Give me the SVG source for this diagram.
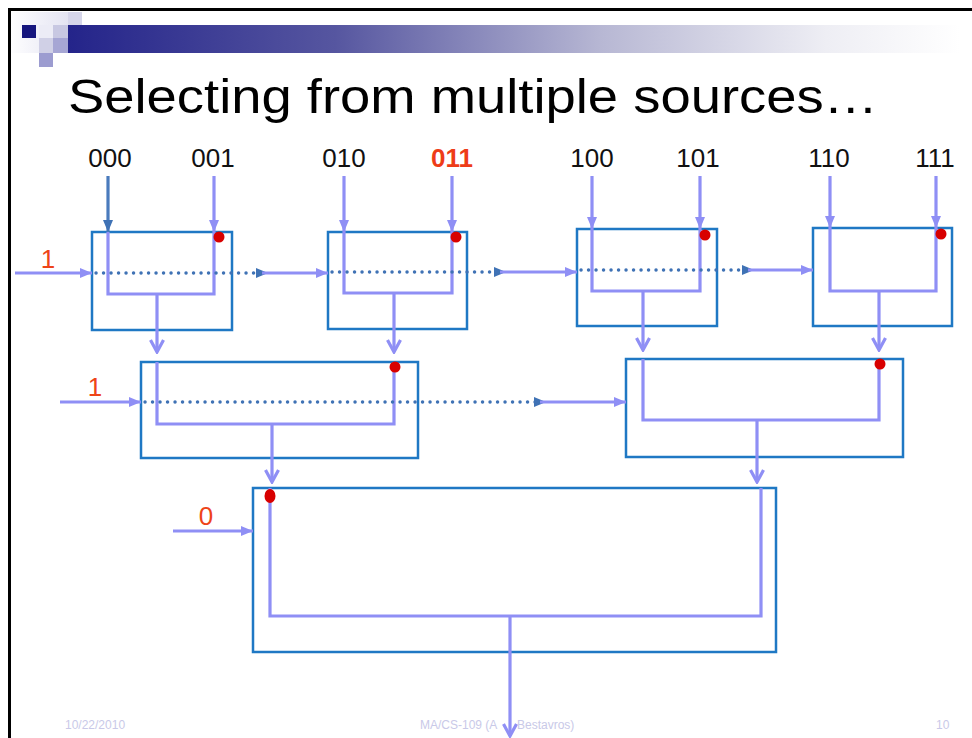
<svg xmlns="http://www.w3.org/2000/svg" width="972" height="738" viewBox="0 0 972 738">
  <style>
    .box { fill: none; stroke: #1f78c4; stroke-width: 2.5; }
    .wire { fill: none; stroke: #8f8ff5; stroke-width: 3.2; stroke-linejoin: miter; }
    .in { fill: none; stroke: #8f8ff5; stroke-width: 3.2; marker-end: url(#tri); }
    .in-dark { fill: none; stroke: #4a7bbd; stroke-width: 3.2; marker-end: url(#triDark); }
    .out { fill: none; stroke: #8f8ff5; stroke-width: 3.2; marker-end: url(#chev); }
    .dots { fill: none; stroke: #3f72b5; stroke-width: 3.4; stroke-linecap: round; stroke-dasharray: 0.1 7.4; }
    .sel { fill: #d80000; }
    .addr { font-family: "Liberation Sans", Arial, sans-serif; font-size: 26px; fill: #111; text-anchor: middle; }
    .bit { font-family: "Liberation Sans", Arial, sans-serif; font-size: 26px; fill: #ee4418; text-anchor: middle; }
    .foot { font-family: "Liberation Sans", Arial, sans-serif; font-size: 12px; fill: #c9c9e8; }
  </style>
  <defs>
    <marker id="tri" markerUnits="userSpaceOnUse" viewBox="0 0 12 10" refX="12" refY="5" markerWidth="12" markerHeight="10" orient="auto">
      <path d="M0,0 L12,5 L0,10 z" fill="#8f8ff5"/>
    </marker>
    <marker id="triDark" markerUnits="userSpaceOnUse" viewBox="0 0 12 10" refX="12" refY="5" markerWidth="12" markerHeight="10" orient="auto">
      <path d="M0,0 L12,5 L0,10 z" fill="#3f72b5"/>
    </marker>
    <marker id="chev" markerUnits="userSpaceOnUse" viewBox="0 0 16 16" refX="14" refY="8" markerWidth="16" markerHeight="16" orient="auto">
      <path d="M2,1.5 L14,8 L2,14.5" fill="none" stroke="#8f8ff5" stroke-width="3.2"/>
    </marker>
    <linearGradient id="band" x1="68" y1="0" x2="960" y2="0" gradientUnits="userSpaceOnUse">
      <stop offset="0" stop-color="#24248a"/>
      <stop offset="0.3" stop-color="#5656a0"/>
      <stop offset="0.6" stop-color="#b8b8d4"/>
      <stop offset="0.85" stop-color="#eeeef4"/>
      <stop offset="1" stop-color="#ffffff"/>
    </linearGradient>
    <linearGradient id="lead" x1="8" y1="0" x2="68" y2="0" gradientUnits="userSpaceOnUse">
      <stop offset="0" stop-color="#ffffff"/>
      <stop offset="1" stop-color="#e4e4f2"/>
    </linearGradient>
  </defs>

  <rect width="972" height="738" fill="#ffffff"/>

  <!-- slide frame -->
  <g id="frame">
    <line x1="8" y1="9.5" x2="972" y2="9.5" stroke="#000" stroke-width="3"/>
    <line x1="9.5" y1="8" x2="9.5" y2="738" stroke="#000" stroke-width="3"/>
  </g>

  <!-- header band with tiles -->
  <g id="header">
    <rect x="11" y="12" width="57" height="41" fill="url(#lead)"/>
    <rect x="68" y="25" width="904" height="28" fill="url(#band)"/>
    <rect x="68" y="12" width="14" height="13" fill="#d6d6ea"/>
    <rect x="39" y="25" width="14" height="13" fill="#ececf6"/>
    <rect x="53" y="25" width="15" height="13" fill="#c8c8e2"/>
    <rect x="22" y="25" width="14" height="13" fill="#16167e"/>
    <rect x="39" y="38" width="14" height="15" fill="#d0d0e6"/>
    <rect x="53" y="38" width="15" height="15" fill="#a6a6d4"/>
    <rect x="39" y="53" width="14" height="14" fill="#9c9cd0"/>
  </g>

  <text id="title" x="68" y="113" font-family="'Liberation Sans', Arial, sans-serif" font-size="48" fill="#000" textLength="810" lengthAdjust="spacingAndGlyphs">Selecting from multiple sources…</text>

  <!-- source addresses -->
  <g id="addresses">
    <text class="addr" x="110" y="167">000</text>
    <text class="addr" x="213" y="167">001</text>
    <text class="addr" x="344" y="167">010</text>
    <text class="addr" x="452" y="167" style="fill:#ee3c18;font-weight:bold">011</text>
    <text class="addr" x="592" y="167">100</text>
    <text class="addr" x="698" y="167">101</text>
    <text class="addr" x="829" y="167">110</text>
    <text class="addr" x="935" y="167">111</text>
  </g>

  <!-- select bits -->
  <g id="select-bits">
    <text class="bit" x="48" y="268">1</text>
    <text class="bit" x="95" y="396">1</text>
    <text class="bit" x="206" y="525">0</text>
  </g>

  <!-- level 1 multiplexers -->
  <g id="mux-000-001">
    <rect class="box" x="92" y="232" width="140" height="98"/>
    <path class="wire" d="M108,232 V294 H214 V232"/>
    <path class="dots" d="M96,273 H258"/>
    <circle class="sel" cx="219" cy="237" r="5.5"/>
  </g>
  <g id="mux-010-011">
    <rect class="box" x="328" y="232" width="139" height="97"/>
    <path class="wire" d="M344,232 V293 H452 V232"/>
    <path class="dots" d="M332,272 H496"/>
    <circle class="sel" cx="456" cy="237" r="5.5"/>
  </g>
  <g id="mux-100-101">
    <rect class="box" x="577" y="229" width="140" height="97"/>
    <path class="wire" d="M592,229 V291 H700 V229"/>
    <path class="dots" d="M581,270 H744"/>
    <circle class="sel" cx="705" cy="235" r="5.5"/>
  </g>
  <g id="mux-110-111">
    <rect class="box" x="813" y="228" width="139" height="98"/>
    <path class="wire" d="M830,228 V291 H936 V228"/>
    <circle class="sel" cx="941" cy="234" r="5.5"/>
  </g>

  <!-- level 2 multiplexers -->
  <g id="mux-0xx">
    <rect class="box" x="141" y="362" width="277" height="96"/>
    <path class="wire" d="M157,362 V424 H394 V362"/>
    <path class="dots" d="M145,402 H536"/>
    <circle class="sel" cx="395" cy="367" r="5.5"/>
  </g>
  <g id="mux-1xx">
    <rect class="box" x="626" y="359" width="277" height="98"/>
    <path class="wire" d="M643,359 V420 H879 V359"/>
    <circle class="sel" cx="880" cy="364" r="5.5"/>
  </g>

  <!-- level 3 multiplexer -->
  <g id="mux-xxx">
    <rect class="box" x="253" y="488" width="523" height="164"/>
    <path class="wire" d="M270,488 V616 H761 V488"/>
    <ellipse class="sel" cx="270" cy="496" rx="5.5" ry="7"/>
  </g>

  <!-- connectors -->
  <g id="connectors">
    <!-- source inputs -->
    <path class="in-dark" d="M108,176 V232"/>
    <path class="in" d="M214,176 V232"/>
    <path class="in" d="M344,176 V232"/>
    <path class="in" d="M452,176 V232"/>
    <path class="in" d="M592,176 V229"/>
    <path class="in" d="M700,176 V229"/>
    <path class="in" d="M830,176 V228"/>
    <path class="in" d="M936,176 V228"/>

    <!-- select lines -->
    <path class="in" d="M15,273 H92"/>
    <path class="in-dark" d="M256,273 H268" style="stroke:none"/>
    <path class="in" d="M262,273 H328"/>
    <path class="in-dark" d="M494,272 H506" style="stroke:none"/>
    <path class="in" d="M500,272 H577"/>
    <path class="in-dark" d="M742,270 H754" style="stroke:none"/>
    <path class="in" d="M748,270 H813"/>
    <path class="in" d="M60,402 H141"/>
    <path class="in-dark" d="M534,402 H546" style="stroke:none"/>
    <path class="in" d="M540,402 H626"/>
    <path class="in" d="M173,531 H253"/>

    <!-- data outputs -->
    <path class="out" d="M157,294 V352"/>
    <path class="out" d="M394,293 V352"/>
    <path class="out" d="M643,291 V350"/>
    <path class="out" d="M879,291 V350"/>
    <path class="out" d="M272,424 V482"/>
    <path class="out" d="M757,420 V482"/>
  </g>

  <!-- footer -->
  <g id="footer">
    <text class="foot" x="65" y="729">10/22/2010</text>
    <text class="foot" x="420" y="729">MA/CS-109 (A</text>
    <text class="foot" x="517" y="729">Bestavros)</text>
    <text class="foot" x="936" y="729">10</text>
  </g>

  <path class="out" d="M510,616 V736"/>
</svg>
